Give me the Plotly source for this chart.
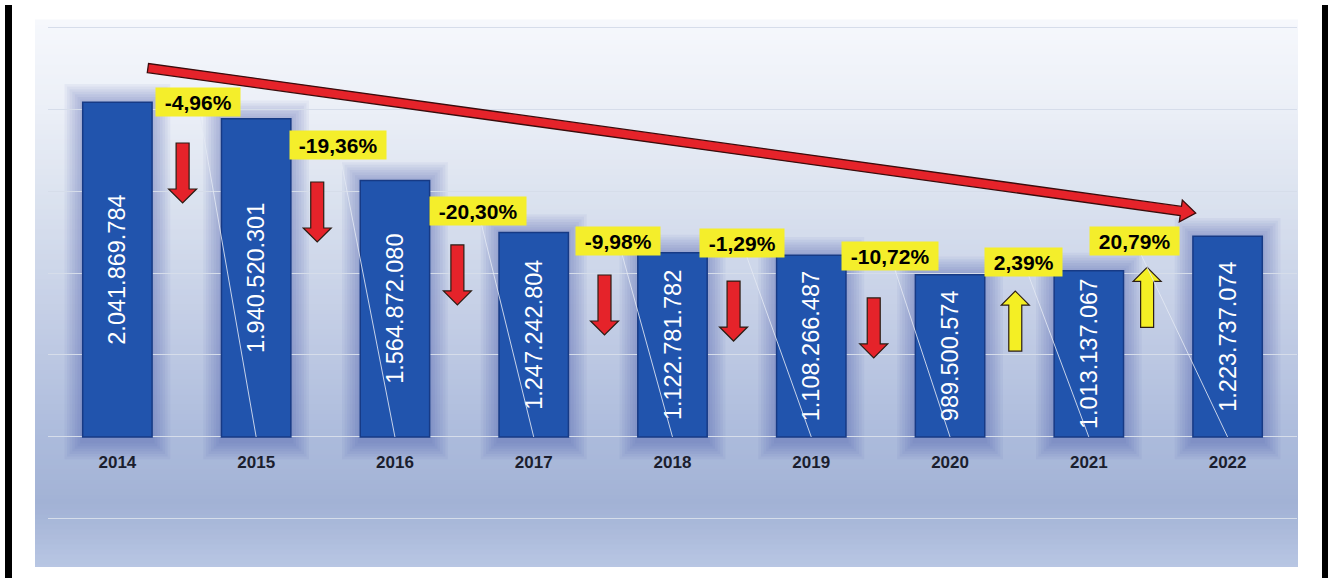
import math
import plotly.graph_objects as go

# ---------------- data ----------------
years = ["2014", "2015", "2016", "2017", "2018", "2019", "2020", "2021", "2022"]
values = [2041869784, 1940520301, 1564872080, 1247242804, 1122781782,
          1108266487, 989500574, 1013137067, 1223737074]
pct_labels = ["-4,96%", "-19,36%", "-20,30%", "-9,98%", "-1,29%",
              "-10,72%", "2,39%", "20,79%"]

# ---------------- layout geometry / placement ----------------
W, H = 1328, 578
ML, MR, MT, MB = 48, 31, 20, 11
PW, PH = W - ML - MR, H - MT - MB
YMIN, YMAX = -0.793e9, 2.543e9
N = len(years)
XPX = PW / N                  # pixels per category
YPX = PH / (YMAX - YMIN)      # pixels per unit

# percentage-label box centres (category index, value units)
label_x = [0.58, 1.59, 2.60, 3.61, 4.50, 5.57, 6.53, 7.33]
label_y = [2.04e9, 1.78e9, 1.378e9, 1.195e9, 1.183e9, 1.104e9, 1.067e9, 1.195e9]
# small arrow centres
arrow_x = [0.47, 1.44, 2.45, 3.51, 4.44, 5.45, 6.47, 7.42]
arrow_y = [1.61e9, 1.372e9, 0.988e9, 0.805e9, 0.768e9, 0.665e9, 0.707e9, 0.851e9]
# big trend arrow (start of shaft, tip)
trend_start = (0.22, 2.25e9)
trend_end = (7.77, 1.366e9)

idx = list(range(N))
bar_text = [f"{v:,}".replace(",", ".") for v in values]


def path_from_px(ax, ay, pts):
    """pts are pixel offsets (dx right, dy down) from data anchor (ax, ay)."""
    coords = [(ax + dx / XPX, ay - dy / YPX) for dx, dy in pts]
    return "M " + " L ".join(f"{x:.5f},{y:.1f}" for x, y in coords) + " Z"


def px_paper_x(px):
    return (px - ML) / PW


def px_paper_y(py):
    return (MT + PH - py) / PH


shapes = []

# ---- panel gradient background ----
stops = [(20, (246, 248, 252)), (110, (235, 239, 247)), (200, (219, 226, 239)),
         (300, (199, 209, 231)), (437, (172, 187, 220)), (505, (162, 178, 213)),
         (567, (184, 198, 227))]


def grad_color(py):
    for (p0, c0), (p1, c1) in zip(stops[:-1], stops[1:]):
        if p0 <= py <= p1:
            t = (py - p0) / (p1 - p0)
            return "rgb(%d,%d,%d)" % tuple(round(a + (b - a) * t) for a, b in zip(c0, c1))
    return "rgb(%d,%d,%d)" % stops[-1][1]


step = 5
py = 20
while py < 567:
    py2 = min(py + step, 567)
    shapes.append(dict(type="rect", xref="paper", yref="paper", layer="below",
                       x0=px_paper_x(35), x1=px_paper_x(1298),
                       y0=px_paper_y(py2), y1=px_paper_y(py) + 0.6 / PH,
                       fillcolor=grad_color((py + py2) / 2), line=dict(width=0)))
    py = py2

# ---- soft glow around the bars ----
for i, v in enumerate(values):
    for k in range(1, 8):
        pad = 2.6 * k
        shapes.append(dict(type="rect", xref="x", yref="y", layer="below",
                           x0=i - 0.25 - pad / XPX, x1=i + 0.25 + pad / XPX,
                           y0=-(pad + 4) / YPX, y1=v + pad / YPX,
                           fillcolor="rgba(35,65,155,0.05)", line=dict(width=0)))

# ---- outer black frame (left / right) ----
for x0, x1 in [(5, 12), (1322, 1328)]:
    shapes.append(dict(type="rect", xref="paper", yref="paper", layer="above",
                       x0=px_paper_x(x0), x1=px_paper_x(x1),
                       y0=px_paper_y(578), y1=px_paper_y(5),
                       fillcolor="black", line=dict(width=0)))

# ---- small up / down arrows ----
down_pts = [(-6.5, -30), (6.5, -30), (6.5, 16), (14, 16), (0, 30), (-14, 16), (-6.5, 16)]
for i, lab in enumerate(pct_labels):
    up = not lab.startswith("-")
    pts = [(dx, -dy) for dx, dy in down_pts] if up else down_pts
    shapes.append(dict(type="path", xref="x", yref="y", layer="above",
                       path=path_from_px(arrow_x[i], arrow_y[i], pts),
                       fillcolor="#f4ef24" if up else "#e5232a",
                       line=dict(color="#2a1d14", width=1.2)))

# ---- big red trend arrow ----
sx, sy = trend_start
ex, ey = trend_end
dx = (ex - sx) * XPX
dy = -(ey - sy) * YPX
L = math.hypot(dx, dy)
ux, uy = dx / L, dy / L
nx, ny = -uy, ux
t, hl, hw = 4.6, 15, 11
bx, by = dx - ux * hl, dy - uy * hl
trend_pts = [(nx * t, ny * t), (bx + nx * t, by + ny * t), (bx + nx * hw, by + ny * hw),
             (dx, dy), (bx - nx * hw, by - ny * hw), (bx - nx * t, by - ny * t),
             (-nx * t, -ny * t)]
shapes.append(dict(type="path", xref="x", yref="y", layer="above",
                   path=path_from_px(sx, sy, trend_pts),
                   fillcolor="#e5232a", line=dict(color="#3a0c0c", width=1.3)))

# ---------------- figure ----------------
fig = go.Figure()
fig.add_trace(go.Bar(
    x=idx, y=values, width=0.5,
    marker=dict(color="#2154ad", line=dict(color="#173a85", width=1.5)),
    text=bar_text, textposition="inside", insidetextanchor="middle",
    textangle=-90, constraintext="none",
    textfont=dict(color="white", size=23.5, family="Liberation Sans, Arial"),
    hoverinfo="skip", showlegend=False,
))

annotations = []
for i, lab in enumerate(pct_labels):
    annotations.append(dict(
        x=i + 1, y=0, xref="x", yref="y",
        ax=label_x[i], ay=label_y[i], axref="x", ayref="y",
        text="\u00a0" + lab + "\u00a0", showarrow=True, arrowhead=0,
        arrowwidth=1, arrowcolor="rgba(228,233,244,0.85)", standoff=0,
        bgcolor="#f4ee2b", borderpad=3, borderwidth=1, bordercolor="rgba(0,0,0,0)",
        height=22,
        font=dict(size=21, color="black", family="Liberation Sans, Arial", weight="bold"),
    ))

fig.update_layout(
    width=W, height=H,
    margin=dict(l=ML, r=MR, t=MT, b=MB, pad=0),
    paper_bgcolor="white", plot_bgcolor="rgba(0,0,0,0)",
    shapes=shapes, annotations=annotations,
    barmode="overlay",
    xaxis=dict(range=[-0.5, N - 0.5], tickvals=idx, ticktext=years,
               showgrid=False, zeroline=False, showline=False, ticks="",
               anchor="free", position=(0 - YMIN) / (YMAX - YMIN),
               ticklabelstandoff=13,
               tickfont=dict(size=17, color="#1b1e2e", family="Liberation Sans, Arial",
                             weight="bold")),
    yaxis=dict(range=[YMIN, YMAX], tick0=0, dtick=5e8, showticklabels=False,
               showgrid=True, gridcolor="#d6ddea", gridwidth=1.2,
               zeroline=True, zerolinecolor="#d6ddea", zerolinewidth=1.2, ticks=""),
)

fig.write_html("out.html", config={"displayModeBar": False},
               post_script="document.body.style.margin='0';document.body.style.padding='0';")
